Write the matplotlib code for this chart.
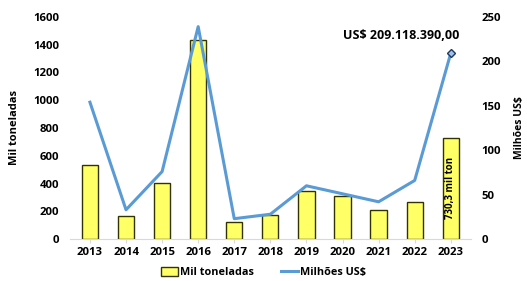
import matplotlib
matplotlib.use("Agg")
import matplotlib.pyplot as plt
import numpy as np

years = ["2013", "2014", "2015", "2016", "2017", "2018", "2019", "2020", "2021", "2022", "2023"]
mil_toneladas = [532, 170, 402, 1437, 126, 173, 347, 308, 207, 265, 730.3]
milhoes_usd = [154, 33, 76, 239, 23, 28, 60, 51, 42, 66, 209.1]
left_ticks = [0, 200, 400, 600, 800, 1000, 1200, 1400, 1600]
right_ticks = [0, 50, 100, 150, 200, 250]

plt.rcParams['font.family'] = ['Open Sans', 'DejaVu Sans']
plt.rcParams['font.weight'] = 'bold'

fig = plt.figure(figsize=(5.27, 2.81), dpi=100)
ax = fig.add_axes([0.133, 0.149, 0.76, 0.791])
x = np.arange(len(years))

ax.bar(x, mil_toneladas, width=0.45, color="#FFFF66", edgecolor="#333300", linewidth=1.0,
       label="Mil toneladas", zorder=2)
ax.set_ylim(0, 1600)
ax.set_xlim(-0.55, len(years) - 0.45)
ax.set_yticks(left_ticks)
ax.set_xticks(x)
ax.set_xticklabels(years)
for s in ["top", "right", "left"]:
    ax.spines[s].set_visible(False)
ax.spines["bottom"].set_color("#d9d9d9")
ax.tick_params(axis="y", length=0, labelsize=8.2, pad=8)
ax.tick_params(axis="x", length=3, color="#d9d9d9", labelsize=8.2, pad=3)
ax.set_ylabel("Mil toneladas", fontsize=8, fontweight="bold", labelpad=9)

ax2 = ax.twinx()
ax2.plot(x, milhoes_usd, color="#5B9BD5", linewidth=2.2, label="Milhões US$", zorder=3)
ax2.plot(x[-1], milhoes_usd[-1], marker="D", markersize=4, markerfacecolor="#9DC3E6",
         markeredgecolor="#1F3864", markeredgewidth=1, zorder=4)
ax2.set_ylim(0, 250)
ax2.set_yticks(right_ticks)
for s in ["top", "right", "left", "bottom"]:
    ax2.spines[s].set_visible(False)
ax2.tick_params(axis="y", length=0, labelsize=8.2, pad=8)
ax2.set_ylabel("Milhões US$", fontsize=7.5, fontweight="bold", labelpad=9)

ax2.annotate("US$ 209.118.390,00", (x[-1], milhoes_usd[-1]), xytext=(6, 8),
             textcoords="offset points", ha="right", va="bottom",
             fontsize=9, fontweight="bold")
ax.text(x[-1], mil_toneladas[-1] / 2, "730,3 mil ton", rotation=90, ha="center", va="center",
        fontsize=7, fontweight="bold")

h1, l1 = ax.get_legend_handles_labels()
h2, l2 = ax2.get_legend_handles_labels()
fig.legend(h1 + h2, l1 + l2, loc="lower center", bbox_to_anchor=(0.5, -0.025), ncol=2,
           frameon=False, fontsize=7.8, handlelength=1.6, handleheight=0.8,
           columnspacing=2.5, handletextpad=0.2)

fig.savefig("out.png", dpi=100)
